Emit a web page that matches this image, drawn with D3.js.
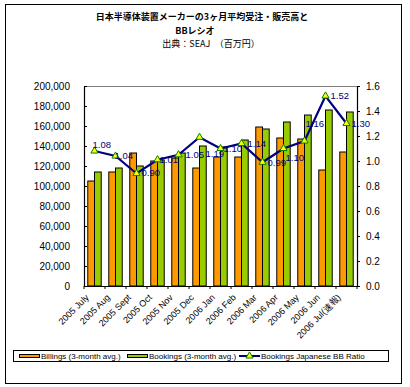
<!DOCTYPE html>
<html>
<head>
<meta charset="utf-8">
<script src="https://cdn.jsdelivr.net/npm/d3@7"></script>
<style>
    body { margin: 0; background: #fff; }
    svg { display: block; font-family: "Liberation Sans", Arial, sans-serif; }
</style>
</head>
<body>
<svg id="chart"></svg>
<script>
var months = ["2005 July", "2005 Aug", "2005 Sept", "2005 Oct", "2005 Nov", "2005 Dec",
    "2006 Jan", "2006 Feb", "2006 Mar", "2006 Apr", "2006 May", "2006 Jun", "2006 Jul(速報)"];
var billings = [105000, 114000, 133000, 125000, 128000, 118000, 129000, 129000, 159000, 148000, 147000, 116000, 134000];
var bookings = [114000, 118000, 120000, 126000, 133000, 140000, 139000, 146000, 157000, 164000, 171000, 176000, 174000];
var bbRatio = [1.08, 1.04, 0.90, 1.01, 1.05, 1.19, 1.10, 1.14, 0.99, 1.10, 1.16, 1.52, 1.30];
var leftTicks = [0, 20000, 40000, 60000, 80000, 100000, 120000, 140000, 160000, 180000, 200000];
var rightTicks = [0, 0.2, 0.4, 0.6, 0.8, 1.0, 1.2, 1.4, 1.6];
var titleLines = ["日本半導体装置メーカーの3ヶ月平均受注・販売高と", "BBレシオ", "出典：SEAJ　（百万円）"];
var seriesNames = ["Billings (3-month avg.)", "Bookings (3-month avg.)", "Bookings Japanese BB Ratio"];

// label nudges (px) so the ratio labels sit like the original
var labelDx = [-2, -1, 5, 2, 7, 6, 3, 6, 5, 2, 1, 5, 5];
var labelDy = [-6, 0, -1, 0, 0, 16, 0, 0, 0, 9, -17, 0, 0];

var colors = { billings: "#FF9900", bookings: "#99CC00", line: "#000080", marker: "#FFFF00", markerStroke: "#008000" };
var plot = { left: 84, right: 357, top: 86, bottom: 286 };

var svg = d3.select("#chart").attr("width", 410).attr("height", 387);

svg.append("rect")
    .attr("x", 5.5).attr("y", 4.5)
    .attr("width", 396).attr("height", 379)
    .attr("fill", "none").attr("stroke", "#000");

var titlePos = [[202, 20], [195, 34], [211, 47]];
titleLines.forEach(function (t, i) {
    svg.append("text")
        .attr("x", titlePos[i][0]).attr("y", titlePos[i][1])
        .attr("text-anchor", "middle")
        .attr("font-family", "'Noto Sans CJK JP', sans-serif")
        .attr("font-size", 9)
        .attr("font-weight", i < 2 ? "bold" : "normal")
        .text(t);
});

var xScale = d3.scaleBand().domain(months).range([plot.left, plot.right]);
var bw = xScale.bandwidth();
var xSub = d3.scaleBand().domain(["billings", "bookings"]).range([bw * 0.18, bw * 0.82]);
var yLeft = d3.scaleLinear().domain([0, 200000]).range([plot.bottom, plot.top]);
var yRight = d3.scaleLinear().domain([0, 1.6]).range([plot.bottom, plot.top]);

// top border of the plot area
svg.append("line")
    .attr("x1", plot.left).attr("x2", plot.right)
    .attr("y1", plot.top + 0.5).attr("y2", plot.top + 0.5)
    .attr("stroke", "#808080");

var barData = [];
months.forEach(function (m, i) {
    barData.push({ month: m, key: "billings", value: billings[i] });
    barData.push({ month: m, key: "bookings", value: bookings[i] });
});

svg.append("g").selectAll("rect")
    .data(barData)
    .enter().append("rect")
    .attr("x", function (d) { return xScale(d.month) + xSub(d.key); })
    .attr("y", function (d) { return yLeft(d.value); })
    .attr("width", xSub.bandwidth())
    .attr("height", function (d) { return plot.bottom - yLeft(d.value); })
    .attr("fill", function (d) { return colors[d.key]; })
    .attr("stroke", "#000")
    .attr("stroke-width", 1);

var leftAxis = d3.axisLeft(yLeft)
    .tickValues(leftTicks)
    .tickSizeInner(-3)
    .tickSizeOuter(0)
    .tickPadding(14)
    .tickFormat(d3.format(","));
var leftG = svg.append("g").attr("transform", "translate(" + plot.left + ",0)").call(leftAxis);

var rightAxis = d3.axisRight(yRight)
    .tickValues(rightTicks)
    .tickSizeInner(3)
    .tickSizeOuter(0)
    .tickPadding(6)
    .tickFormat(d3.format(".1f"));
var rightG = svg.append("g").attr("transform", "translate(" + plot.right + ",0)").call(rightAxis);

var bottomAxis = d3.axisBottom(xScale).tickSize(0).tickFormat("");
var bottomG = svg.append("g").attr("transform", "translate(0," + plot.bottom + ")").call(bottomAxis);

[leftG, rightG, bottomG].forEach(function (g) {
    g.select(".domain").attr("stroke", "#000").attr("stroke-width", 1.2);
    g.selectAll("text").attr("font-family", "'Liberation Sans', Arial, sans-serif").attr("font-size", 10).attr("fill", "#000");
});

// category boundary ticks
var bounds = months.map(function (m) { return xScale(m); }).concat([plot.right]);
bottomG.selectAll("line.sep")
    .data(bounds)
    .enter().append("line")
    .attr("class", "sep")
    .attr("x1", function (d) { return d; }).attr("x2", function (d) { return d; })
    .attr("y1", 0).attr("y2", 3)
    .attr("stroke", "#000");

svg.append("g").selectAll("text")
    .data(months)
    .enter().append("text")
    .attr("transform", function (d) {
        return "translate(" + (xScale(d) + bw / 2 - 5) + "," + (plot.bottom + 12) + ") rotate(-45)";
    })
    .attr("text-anchor", "end")
    .attr("font-size", 9)
    .text(function (d) { return d; });

// BB ratio line
var cx = function (m) { return xScale(m) + bw / 2; };
var line = d3.line()
    .x(function (d, i) { return cx(months[i]); })
    .y(function (d) { return yRight(d); });

svg.append("path")
    .datum(bbRatio)
    .attr("d", line)
    .attr("fill", "none")
    .attr("stroke", colors.line)
    .attr("stroke-width", 2.2);

var tri = d3.symbol().type(d3.symbolTriangle).size(22);
svg.append("g").selectAll("path")
    .data(bbRatio)
    .enter().append("path")
    .attr("d", tri)
    .attr("transform", function (d, i) { return "translate(" + cx(months[i]) + "," + yRight(d) + ")"; })
    .attr("fill", colors.marker)
    .attr("stroke", colors.markerStroke)
    .attr("stroke-width", 1);

svg.append("g").selectAll("text")
    .data(bbRatio)
    .enter().append("text")
    .attr("x", function (d, i) { return cx(months[i]) + labelDx[i]; })
    .attr("y", function (d, i) { return yRight(d) + labelDy[i]; })
    .attr("dy", "0.35em")
    .attr("font-size", 9.5)
    .attr("fill", colors.line)
    .text(function (d) { return d3.format(".2f")(d); });

// legend
var legend = svg.append("g");
legend.append("rect")
    .attr("x", 13.5).attr("y", 350.5)
    .attr("width", 375).attr("height", 11)
    .attr("fill", "#fff").attr("stroke", "#000");

var legendItems = [
    { name: seriesNames[0], type: "bar", color: colors.billings, x: 19 },
    { name: seriesNames[1], type: "bar", color: colors.bookings, x: 127 },
    { name: seriesNames[2], type: "line", color: colors.line, x: 239 }
];
legendItems.forEach(function (item) {
    if (item.type == "bar") {
        legend.append("rect")
            .attr("x", item.x + 0.5).attr("y", 354.5)
            .attr("width", 20).attr("height", 3)
            .attr("fill", item.color).attr("stroke", "#000");
    } else {
        legend.append("line")
            .attr("x1", item.x).attr("x2", item.x + 21)
            .attr("y1", 356).attr("y2", 356)
            .attr("stroke", item.color).attr("stroke-width", 2);
        legend.append("path")
            .attr("d", tri)
            .attr("transform", "translate(" + (item.x + 10.5) + ",356)")
            .attr("fill", colors.marker)
            .attr("stroke", colors.markerStroke);
    }
    legend.append("text")
        .attr("x", item.x + 22)
        .attr("y", 356)
        .attr("dy", "0.35em")
        .attr("font-size", 8)
        .text(item.name);
});
</script>
</body>
</html>
